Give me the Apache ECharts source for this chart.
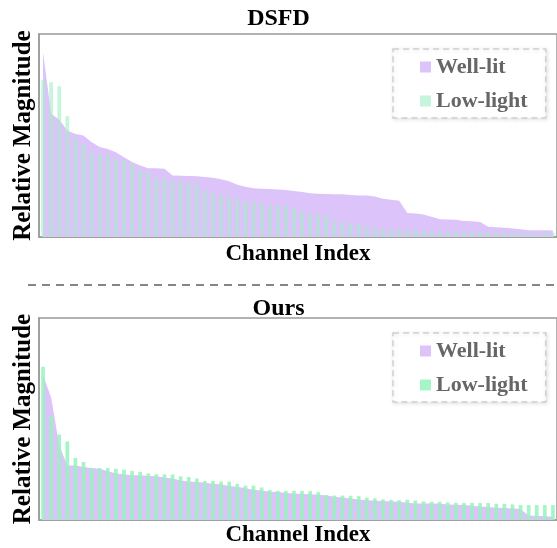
<!DOCTYPE html>
<html><head><meta charset="utf-8">
<script src="https://cdn.jsdelivr.net/npm/echarts@6/dist/echarts.min.js"></script>
<style>html,body{margin:0;padding:0;background:#fff}#c{width:557px;height:548px}</style>
</head><body><div id="c"></div>
<script>
const channels = Array.from({length: 64}, (_, i) => String(i + 1));
const dsfdWellLit = [0.91,0.607,0.577,0.525,0.508,0.5,0.467,0.443,0.434,0.418,0.393,0.369,0.352,0.339,0.339,0.336,0.303,0.302,0.3,0.299,0.296,0.292,0.285,0.275,0.258,0.248,0.24,0.238,0.236,0.234,0.231,0.226,0.222,0.216,0.213,0.212,0.211,0.21,0.207,0.205,0.204,0.2,0.188,0.184,0.178,0.118,0.116,0.111,0.1,0.087,0.086,0.085,0.079,0.077,0.074,0.05,0.048,0.046,0.042,0.038,0.033,0.033,0.033,0.032];
const dsfdLowLight = [0.775,0.762,0.743,0.595,0.489,0.456,0.415,0.41,0.405,0.389,0.38,0.364,0.331,0.323,0.292,0.29,0.275,0.274,0.267,0.262,0.23,0.218,0.205,0.2,0.185,0.177,0.175,0.166,0.156,0.156,0.154,0.144,0.125,0.118,0.111,0.108,0.079,0.075,0.066,0.064,0.049,0.044,0.038,0.038,0.036,0.033,0.033,0.033,0.031,0.03,0.028,0.028,0.026,0.026,0.025,0.025,0.023,0.023,0.021,0.021,0.021,0.02,0.02,0.02];
const oursWellLit = [0.716,0.607,0.369,0.27,0.27,0.262,0.257,0.254,0.241,0.23,0.226,0.221,0.221,0.218,0.216,0.21,0.205,0.196,0.19,0.188,0.185,0.18,0.176,0.168,0.164,0.157,0.15,0.146,0.14,0.138,0.134,0.131,0.129,0.128,0.125,0.121,0.115,0.111,0.107,0.102,0.098,0.095,0.094,0.092,0.09,0.086,0.082,0.082,0.082,0.08,0.077,0.076,0.074,0.071,0.067,0.064,0.061,0.059,0.057,0.055,0.021,0.021,0.018,0.016];
const oursLowLight = [0.759,0.516,0.423,0.389,0.307,0.287,0.257,0.257,0.257,0.254,0.249,0.243,0.238,0.23,0.226,0.226,0.225,0.216,0.213,0.205,0.193,0.193,0.19,0.19,0.179,0.17,0.17,0.161,0.148,0.144,0.144,0.144,0.144,0.143,0.138,0.123,0.121,0.121,0.12,0.118,0.11,0.107,0.102,0.1,0.098,0.1,0.096,0.092,0.09,0.09,0.087,0.085,0.084,0.085,0.084,0.084,0.08,0.08,0.077,0.074,0.074,0.074,0.074,0.074];
const panelTitles = ['DSFD', 'Ours'];
const seriesNames = ['Well-lit', 'Low-light'];

const FONT = '"Liberation Serif", "Times New Roman", serif';
const purple = '#dcc3f9';
const greenTop = 'rgba(165,238,200,0.62)';
const greenBot = 'rgba(150,243,190,0.85)';

const grids = [
  {left: 39, right: -10, top: 34, height: 203, show: true, borderColor: '#9a9a9a', borderWidth: 1.5, backgroundColor: 'transparent'},
  {left: 39, right: -10, top: 318, height: 204, show: true, borderColor: '#9a9a9a', borderWidth: 1.5, backgroundColor: 'transparent'}
];
const nameStyle = {fontFamily: FONT, fontWeight: 'bold', fontSize: 23, color: '#000'};
function xAx(i, gap){
  return {type: 'category', gridIndex: i, data: channels, boundaryGap: true,
    axisTick: {show: false}, axisLabel: {show: false},
    axisLine: {show: true, lineStyle: {color: '#9a9a9a', width: 1.5}},
    name: 'Channel Index', nameLocation: 'middle', nameGap: gap, nameTextStyle: Object.assign({verticalAlign: 'top'}, nameStyle)};
}
function yAx(i){
  return {type: 'value', gridIndex: i, min: 0, max: 1,
    axisTick: {show: false}, axisLabel: {show: false}, splitLine: {show: false},
    axisLine: {show: true, lineStyle: {color: '#9a9a9a', width: 1.5}},
    name: 'Relative Magnitude', nameLocation: 'middle', nameGap: 3,
    nameTextStyle: Object.assign({}, nameStyle, {fontSize: 25})};
}
function legend(top, greenColor){
  return {orient: 'vertical', left: 393, top: top, itemWidth: 11, itemHeight: 11, itemGap: 12,
    padding: [7, 18, 6, 27], backgroundColor: '#fff', borderColor: '#d0d0d0', borderWidth: 1.5, borderType: [6, 4],
    shadowBlur: 4, shadowColor: 'rgba(0,0,0,0.12)', shadowOffsetX: 1, shadowOffsetY: 1,
    textStyle: {fontFamily: FONT, fontWeight: 'bold', fontSize: 22, color: '#666'},
    data: [{name: seriesNames[0], icon: 'rect', itemStyle: {color: purple, borderWidth: 0}},
           {name: seriesNames[1], icon: 'rect', itemStyle: {color: greenColor, borderWidth: 0}}]};
}

const option = {
  animation: false,
  backgroundColor: '#fff',
  title: [
    {text: panelTitles[0], left: 'center', top: 2, textStyle: {fontFamily: FONT, fontWeight: 'bold', fontSize: 24, color: '#000'}},
    {text: panelTitles[1], left: 'center', top: 292, textStyle: {fontFamily: FONT, fontWeight: 'bold', fontSize: 24, color: '#000'}}
  ],
  grid: grids,
  xAxis: [xAx(0, 6), xAx(1, 4)],
  yAxis: [yAx(0), yAx(1)],
  legend: [legend(49, greenTop), legend(333, greenBot)],
  series: [
    {name: seriesNames[0], type: 'line', xAxisIndex: 0, yAxisIndex: 0, data: dsfdWellLit, showSymbol: false,
      lineStyle: {width: 0}, itemStyle: {color: purple}, areaStyle: {color: purple, opacity: 1}, z: 1},
    {name: seriesNames[1], type: 'bar', xAxisIndex: 0, yAxisIndex: 0, data: dsfdLowLight, barWidth: '46%',
      itemStyle: {color: greenTop}, z: 2},
    {name: seriesNames[0], type: 'line', xAxisIndex: 1, yAxisIndex: 1, data: oursWellLit, showSymbol: false,
      lineStyle: {width: 0}, itemStyle: {color: purple}, areaStyle: {color: purple, opacity: 1}, z: 1},
    {name: seriesNames[1], type: 'bar', xAxisIndex: 1, yAxisIndex: 1, data: oursLowLight, barWidth: '46%',
      itemStyle: {color: greenBot}, z: 2}
  ],
  graphic: [
    {type: 'line', shape: {x1: 28, y1: 285, x2: 557, y2: 285}, style: {stroke: '#858585', lineWidth: 2, lineDash: [8, 6]}}
  ]
};
const chart = echarts.init(document.getElementById('c'), null, {renderer: 'canvas'});
chart.setOption(option);
</script></body></html>
